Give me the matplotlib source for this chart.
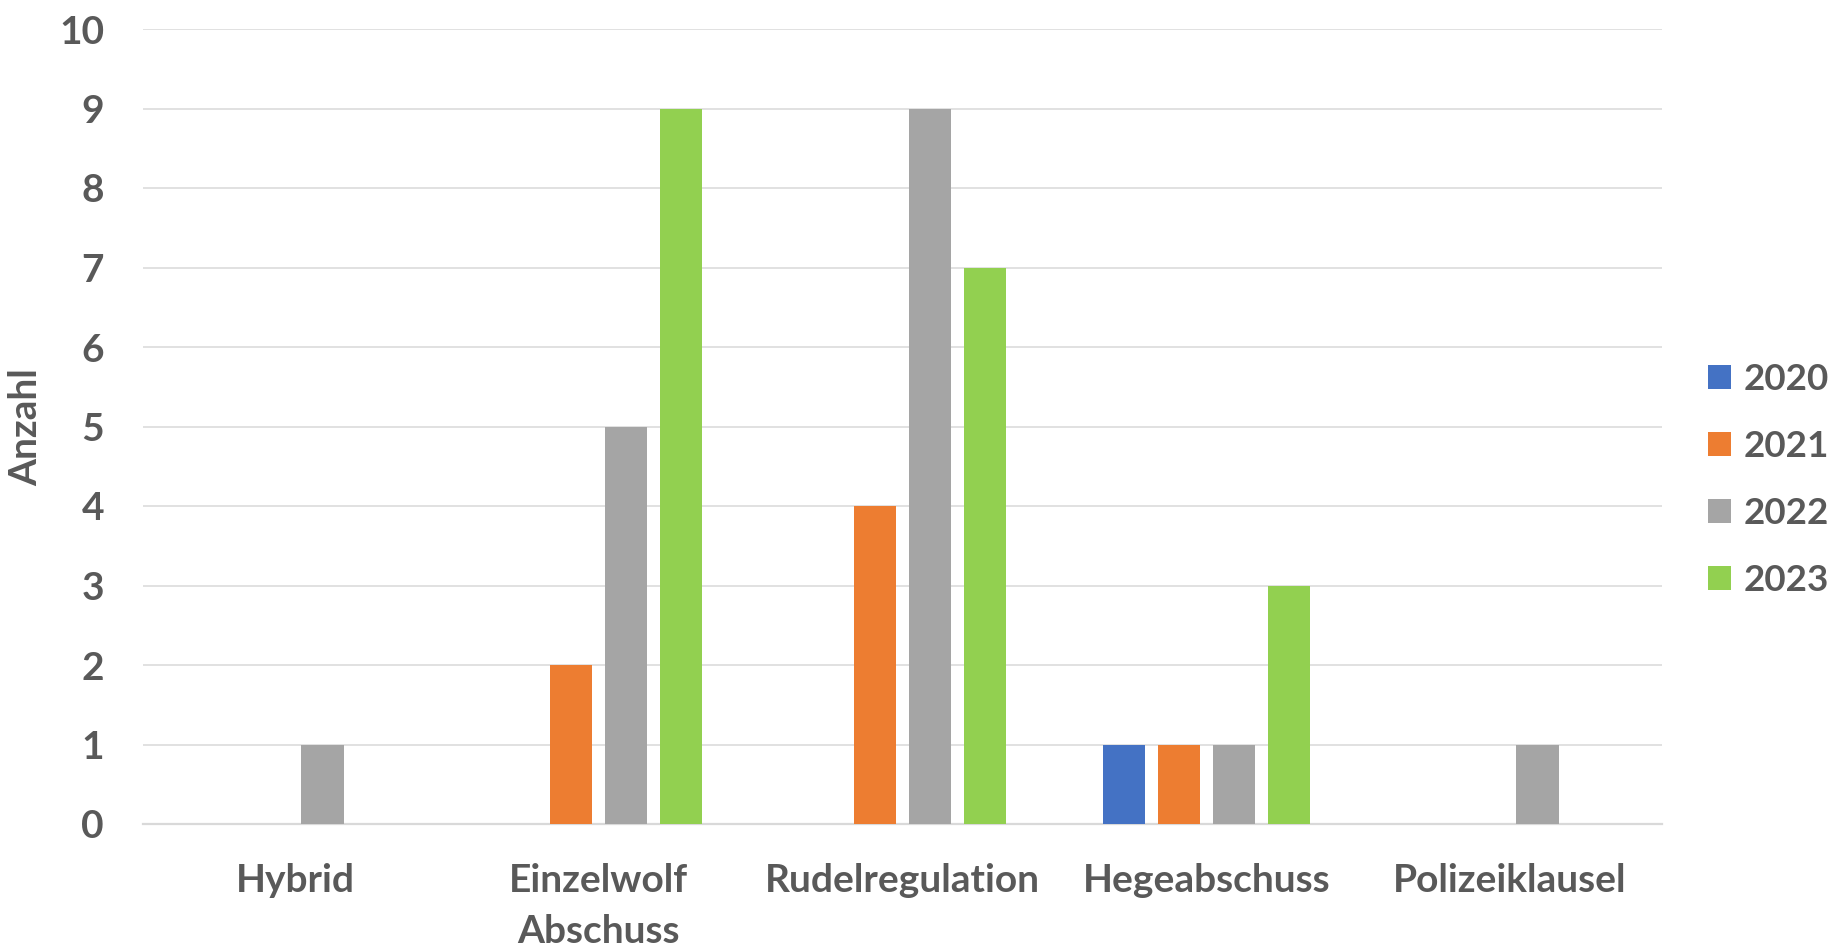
import matplotlib
matplotlib.use("Agg")
import matplotlib.pyplot as plt
import numpy as np
from matplotlib.patches import Patch

categories = ["Hybrid", "Einzelwolf\nAbschuss", "Rudelregulation", "Hegeabschuss", "Polizeiklausel"]
years = ["2020", "2021", "2022", "2023"]
v2020 = [0, 0, 0, 1, 0]
v2021 = [0, 2, 4, 1, 0]
v2022 = [1, 5, 9, 1, 1]
v2023 = [0, 9, 7, 3, 0]
colors = ["#4472C4", "#ED7D31", "#A5A5A5", "#92D050"]

series = [v2020, v2021, v2022, v2023]
txt = "#595959"
plt.rcParams['font.family'] = ['Lato', 'DejaVu Sans']
FS = 28

fig = plt.figure(figsize=(18.36, 9.52), dpi=100)
ax = fig.add_axes([143/1836, 1-824/952, (1662-143)/1836, (824-29)/952])

x = np.arange(len(categories))
step = 0.181
width = 0.139
for i, (vals, c) in enumerate(zip(series, colors)):
    ax.bar(x + (i - 1.5) * step, vals, width=width, color=c, zorder=3)

ax.set_xlim(-0.5, len(categories) - 0.5)
ax.set_ylim(0, 10)
ax.set_yticks(range(0, 11))
ax.yaxis.grid(True, color="#d9d9d9", linewidth=1.1, zorder=0)
ax.set_axisbelow(True)
for s in ["top", "right", "left"]:
    ax.spines[s].set_visible(False)
ax.spines["bottom"].set_color("#d9d9d9")
ax.spines["bottom"].set_linewidth(1.6)
ax.set_xticks(x)
ax.set_xticklabels(categories, linespacing=1.55)
ax.tick_params(axis="both", length=0, labelsize=FS, labelcolor=txt)
ax.tick_params(axis="y", pad=28)
ax.tick_params(axis="x", pad=28)
for lab in ax.get_xticklabels() + ax.get_yticklabels():
    lab.set_fontweight("bold")

fig.text(26/1836, 1-427/952, "Anzahl", rotation=90, ha="center", va="center",
         fontsize=FS, fontweight="bold", color=txt)

handles = [Patch(facecolor=c, edgecolor="none") for c in colors]
leg = fig.legend(handles, years, loc="center left", bbox_to_anchor=(1708/1836, 1-480/952),
                 frameon=False, prop={"size": 26.5, "weight": "bold"}, labelcolor=txt,
                 handlelength=0.62, handleheight=0.62, handletextpad=0.35, labelspacing=0.92,
                 borderaxespad=0, borderpad=0)

fig.savefig("out.png", dpi=100, facecolor="white")
